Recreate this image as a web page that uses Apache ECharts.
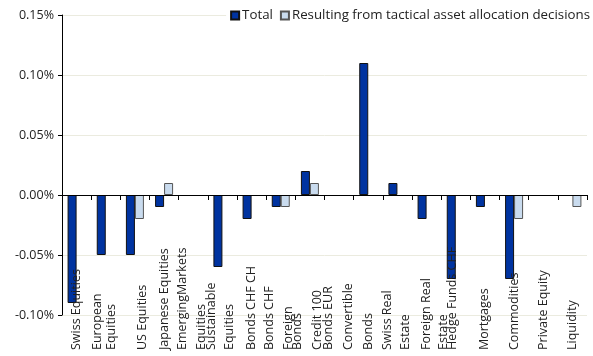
<!DOCTYPE html>
<html>
<head>
<meta charset="utf-8">
<script src="https://cdn.jsdelivr.net/npm/echarts@6/dist/echarts.min.js"></script>
<style>html,body{margin:0;padding:0;background:#fff}#c{width:593px;height:356px}</style>
</head>
<body>
<div id="c"></div>
<script>
// ---- data ----
var categories = ['Swiss Equities','European Equities','US Equities','Japanese Equities','EmergingMarkets Equities','Sustainable Equities','Bonds CHF CH','Bonds CHF Foreign','Bonds Credit 100','Bonds EUR Convertible','Bonds','Swiss Real Estate','Foreign Real','Estate Hedge Funds CHF','Mortgages','Commodities','Private Equity','Liquidity'];
// label lines as printed under each category
var labelLines = [
  ['Swiss Equities'],
  ['European','Equities'],
  ['','US Equities'],
  ['Japanese Equities'],
  ['EmergingMarkets','Equities'],
  ['Sustainable','Equities'],
  ['Bonds CHF CH'],
  ['Bonds CHF','Foreign'],
  ['Bonds','Credit 100'],
  ['Bonds EUR','Convertible'],
  ['Bonds'],
  ['Swiss Real','Estate'],
  ['Foreign Real'],
  ['Estate','Hedge Funds CHF',''],
  ['Mortgages'],
  ['Commodities'],
  ['Private Equity'],
  ['Liquidity']
];
// null = no bar shown (zero)
var totalValues    = [-0.09,-0.05,-0.05,-0.01,null,-0.06,-0.02,-0.01,0.02,null,0.11,0.01,-0.02,-0.07,-0.01,-0.07,null,null];
var tacticalValues = [null,null,-0.02,0.01,null,null,null,-0.01,0.01,null,null,null,null,null,null,-0.02,null,-0.01];
var yTicks = {min:-0.10, max:0.15, interval:0.05};
var seriesNames = ['Total','Resulting from tactical asset allocation decisions'];

// ---- layout of label line spacing (px per line) ----
var lineHeights = [
  [14],[12,16],[16,16],[14],[16,22],[14,22],[14],[16,22],[16,24],[18,22],[14],[16,20],[14],[9,9,15],[14],[14],[14],[14]
];

var rich = {};
var hs = {};
lineHeights.forEach(function(a){a.forEach(function(h){hs[h]=1;});});
Object.keys(hs).forEach(function(h){
  rich['h'+h] = {lineHeight:+h, fontSize:12.5, fontFamily:'Open Sans', color:'#222'};
});

var chart = echarts.init(document.getElementById('c'));
chart.setOption({
  animation:false,
  textStyle:{fontFamily:'Open Sans'},
  grid:{left:62, right:6, top:15, bottom:41, outerBoundsMode:'none', containLabel:false},
  legend:{
    data:seriesNames,
    right:1, top:8,
    itemWidth:8, itemHeight:8, itemGap:7,
    icon:'rect',
    backgroundColor:'#fff',
    padding:[1,2,1,4],
    textStyle:{fontSize:13.3, color:'#222', fontFamily:'Open Sans', padding:[0,0,0,-2]}
  },
  xAxis:{
    type:'category',
    z:5,
    data:categories,
    axisLine:{onZero:true, lineStyle:{color:'#000', width:1}},
    axisTick:{show:true, length:5, lineStyle:{color:'#000'}},
    splitLine:{show:false},
    axisLabel:{
      interval:0, rotate:90, align:'left', margin:35, hideOverlap:false,
      formatter:function(v, i){
        var lines = labelLines[i], hts = lineHeights[i];
        return lines.map(function(t, k){ return '{h'+hts[k]+'|'+(t===''?' ':t)+'}'; }).join('\n');
      },
      rich:rich
    }
  },
  yAxis:{
    type:'value',
    min:yTicks.min, max:yTicks.max, interval:yTicks.interval,
    axisLine:{show:true, lineStyle:{color:'#000'}},
    axisTick:{show:true, length:4, lineStyle:{color:'#000'}},
    splitLine:{show:true, lineStyle:{color:'#ebebdf', width:1}},
    axisLabel:{fontSize:12.5, color:'#222', margin:8, fontFamily:'Open Sans',
      formatter:function(v){ return (Math.round(v*100)/100).toFixed(2)+'%'; }}
  },
  series:[
    {name:seriesNames[0], type:'bar', data:totalValues, barWidth:9, barGap:'0%',
     itemStyle:{color:'#0033a0', borderColor:'#111', borderWidth:1}},
    {name:seriesNames[1], type:'bar', data:tacticalValues, barWidth:9,
     itemStyle:{color:'#c9dbee', borderColor:'#555', borderWidth:1}}
  ]
});
</script>
</body>
</html>
